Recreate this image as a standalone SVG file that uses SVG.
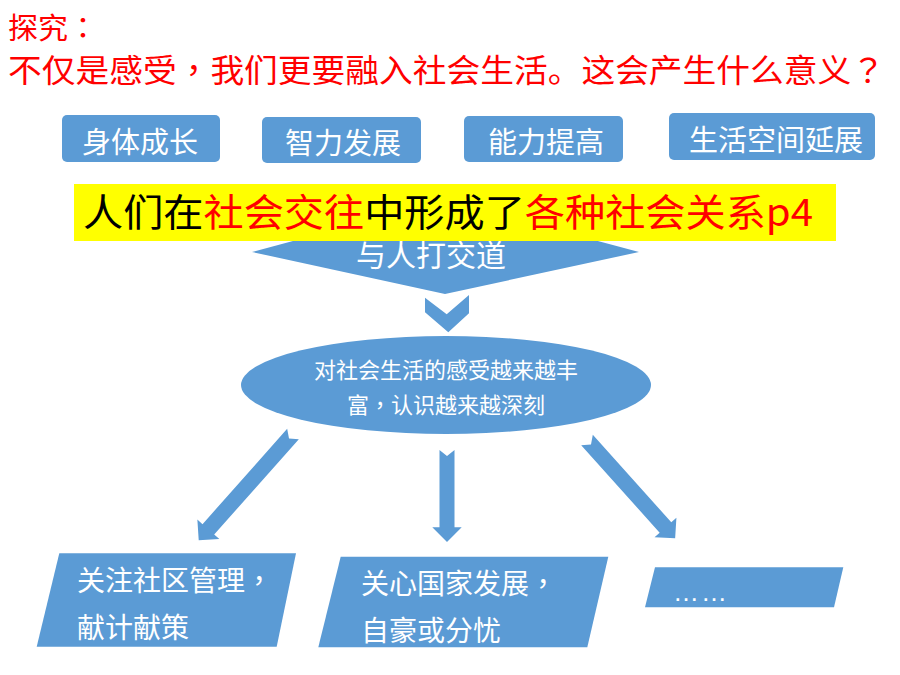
<svg xmlns="http://www.w3.org/2000/svg" width="900" height="675" viewBox="0 0 900 675">
<style>
.cjk{font-family:"Noto Sans CJK SC","Noto Sans",sans-serif;}
.tc{font-family:"Noto Sans CJK TC","Noto Sans CJK SC",sans-serif;}
.red{fill:#FF0000;}
.blk{fill:#000000;}
.wt{fill:#FFFFFF;}
.blue{fill:#5B9BD5;}
</style>
<rect width="900" height="675" fill="#FFFFFF"/>
<g id="title">
<text class="cjk red" x="8" y="39" font-size="29" textLength="90" lengthAdjust="spacingAndGlyphs">探究<tspan class="tc">：</tspan></text>
<text class="cjk red" x="8" y="82" font-size="32" textLength="877" lengthAdjust="spacingAndGlyphs">不仅是感受<tspan class="tc">，</tspan>我们更要融入社会生活。这会产生什么意义<tspan class="tc">？</tspan></text>
</g>
<g id="box1">
<rect class="blue" x="62" y="115" width="158" height="47" rx="5"/>
<text class="cjk wt" x="140" y="153" font-size="29" text-anchor="middle">身体成长</text>
</g>
<g id="box2">
<rect class="blue" x="262" y="117" width="159" height="46" rx="5"/>
<text class="cjk wt" x="343" y="154" font-size="29" text-anchor="middle">智力发展</text>
</g>
<g id="box3">
<rect class="blue" x="464" y="116" width="159" height="46" rx="5"/>
<text class="cjk wt" x="546" y="153" font-size="29" text-anchor="middle">能力提高</text>
</g>
<g id="box4">
<rect class="blue" x="669" y="113" width="206" height="47" rx="5"/>
<text class="cjk wt" x="776" y="151" font-size="29" text-anchor="middle">生活空间延展</text>
</g>
<g id="chevron">
<polygon class="blue" points="252,252 445,294 639,252 445,200"/>
<text class="cjk wt" x="431" y="266" font-size="30" text-anchor="middle">与人打交道</text>
</g>
<g id="banner">
<rect x="74" y="184" width="762" height="57" fill="#FFFF00"/>
<text class="cjk" x="83" y="226" font-size="38" textLength="730" lengthAdjust="spacingAndGlyphs"><tspan class="blk">人们在</tspan><tspan class="red">社会交往</tspan><tspan class="blk">中形成了</tspan><tspan class="red">各种社会关系p4</tspan></text>
</g>
<g id="ellipse">
<ellipse class="blue" cx="446" cy="385" rx="205" ry="49"/>
<text class="cjk wt" x="446" y="378" font-size="22" text-anchor="middle">对社会生活的感受越来越丰</text>
<text class="cjk wt" x="446" y="413" font-size="22" text-anchor="middle">富<tspan class="tc">，</tspan>认识越来越深刻</text>
</g>
<g id="connectors">
<polygon class="blue" points="425,297.7 446.7,314.3 469,295 469,313.3 448.3,332.3 425,312.3"/>
<path class="blue" transform="translate(293,434) rotate(131.6)" d="M0,-7.8 L127.5,-7.8 L127.5,-14.7 L142,0 L127.5,14.7 L127.5,7.8 L0,7.8 L6,0 Z"/>
<path class="blue" transform="translate(447,450) rotate(90)" d="M0,-7.5 L77.3,-7.5 L77.3,-14.7 L92,0 L77.3,14.7 L77.3,7.5 L0,7.5 L6,0 Z"/>
<path class="blue" transform="translate(587,440) rotate(48.1)" d="M0,-7.8 L117.5,-7.8 L117.5,-14.7 L132,0 L117.5,14.7 L117.5,7.8 L0,7.8 L6,0 Z"/>
</g>
<g id="para1">
<polygon class="blue" points="59.3,553.3 296,553.3 276.7,646.7 36.7,646.7"/>
<text class="cjk wt" x="77" y="591" font-size="28">关注社区管理<tspan class="tc">，</tspan></text>
<text class="cjk wt" x="77" y="638" font-size="28">献计献策</text>
</g>
<g id="para2">
<polygon class="blue" points="340.7,556.7 608.3,556.7 587.3,647.3 318.3,647.3"/>
<text class="cjk wt" x="361" y="594" font-size="28">关心国家发展<tspan class="tc">，</tspan></text>
<text class="cjk wt" x="361" y="641" font-size="28">自豪或分忧</text>
</g>
<g id="para3">
<polygon class="blue" points="655,567.3 843.3,567.3 834,607.3 645,607.3"/>
<text x="673" y="601" font-size="26" letter-spacing="2" fill="#FFFFFF" font-family="Liberation Sans, sans-serif">……</text>
</g>
</svg>
